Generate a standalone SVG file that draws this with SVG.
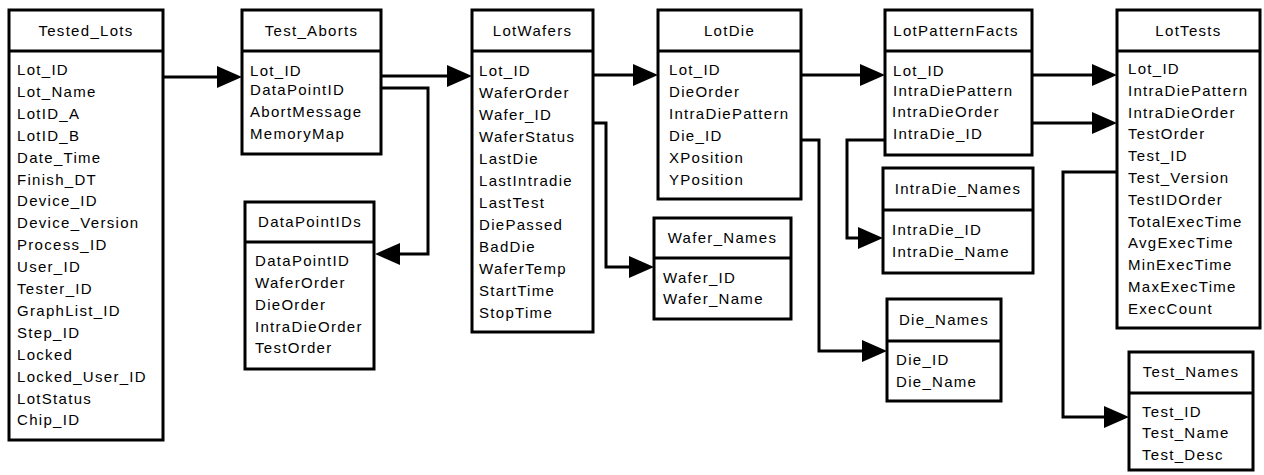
<svg xmlns="http://www.w3.org/2000/svg" width="1264" height="475" viewBox="0 0 1264 475">
  <style>
    .box { fill: #fff; stroke: #000; stroke-width: 3; }
    .div { stroke: #000; stroke-width: 3; }
    .t { font-family: "Liberation Sans", Arial, sans-serif; font-size: 15px; letter-spacing: 1.3px; fill: #000; }
    .h { text-anchor: middle; }
    .link { fill: none; stroke: #000; stroke-width: 3; marker-end: url(#arrow); }
  </style>
  <defs>
    <marker id="arrow" markerUnits="userSpaceOnUse" markerWidth="26" markerHeight="24" refX="20" refY="11" orient="auto">
      <path d="M0,0 L25,11 L0,22 z" fill="#000"/>
    </marker>
  </defs>
  <rect width="1264" height="475" fill="#fff"/>

  <!-- relationships -->
  <g id="connectors">
    <path class="link" d="M163,77 H237"/>
    <path class="link" d="M381,76 H467"/>
    <path class="link" d="M381,88 H428 V254 H380"/>
    <path class="link" d="M593,75 H653"/>
    <path class="link" d="M593,123 H606 V267 H649"/>
    <path class="link" d="M801,75 H880"/>
    <path class="link" d="M801,140 H819 V351 H882"/>
    <path class="link" d="M885,140 H847 V238 H878"/>
    <path class="link" d="M1032,75 H1112"/>
    <path class="link" d="M1032,123 H1112"/>
    <path class="link" d="M1117,172 H1063 V417 H1124"/>
  </g>

  <g id="Tested_Lots">
    <rect class="box" x="9" y="10" width="154" height="430"/>
    <line class="div" x1="9" y1="51" x2="163" y2="51"/>
    <text class="t h" x="86" y="36">Tested_Lots</text>
    <text class="t" x="17" y="75">Lot_ID</text>
    <text class="t" x="17" y="96.9">Lot_Name</text>
    <text class="t" x="17" y="118.8">LotID_A</text>
    <text class="t" x="17" y="140.7">LotID_B</text>
    <text class="t" x="17" y="162.6">Date_Time</text>
    <text class="t" x="17" y="184.5">Finish_DT</text>
    <text class="t" x="17" y="206.4">Device_ID</text>
    <text class="t" x="17" y="228.3">Device_Version</text>
    <text class="t" x="17" y="250.2">Process_ID</text>
    <text class="t" x="17" y="272.1">User_ID</text>
    <text class="t" x="17" y="294">Tester_ID</text>
    <text class="t" x="17" y="315.9">GraphList_ID</text>
    <text class="t" x="17" y="337.8">Step_ID</text>
    <text class="t" x="17" y="359.7">Locked</text>
    <text class="t" x="17" y="381.6">Locked_User_ID</text>
    <text class="t" x="17" y="403.5">LotStatus</text>
    <text class="t" x="17" y="425.4">Chip_ID</text>
  </g>

  <g id="Test_Aborts">
    <rect class="box" x="242" y="10" width="139" height="144"/>
    <line class="div" x1="242" y1="51" x2="381" y2="51"/>
    <text class="t h" x="311.5" y="36">Test_Aborts</text>
    <text class="t" x="250" y="76">Lot_ID</text>
    <text class="t" x="250" y="95">DataPointID</text>
    <text class="t" x="250" y="117">AbortMessage</text>
    <text class="t" x="250" y="139">MemoryMap</text>
  </g>

  <g id="DataPointIDs">
    <rect class="box" x="245" y="202" width="129" height="167"/>
    <line class="div" x1="245" y1="242" x2="374" y2="242"/>
    <text class="t h" x="310" y="227">DataPointIDs</text>
    <text class="t" x="255" y="266">DataPointID</text>
    <text class="t" x="255" y="288">WaferOrder</text>
    <text class="t" x="255" y="310">DieOrder</text>
    <text class="t" x="255" y="332">IntraDieOrder</text>
    <text class="t" x="255" y="353">TestOrder</text>
  </g>

  <g id="LotWafers">
    <rect class="box" x="472" y="10" width="121" height="322"/>
    <line class="div" x1="472" y1="51" x2="593" y2="51"/>
    <text class="t h" x="532.5" y="36">LotWafers</text>
    <text class="t" x="479" y="75.5">Lot_ID</text>
    <text class="t" x="479" y="97.5">WaferOrder</text>
    <text class="t" x="479" y="119.5">Wafer_ID</text>
    <text class="t" x="479" y="141.5">WaferStatus</text>
    <text class="t" x="479" y="163.5">LastDie</text>
    <text class="t" x="479" y="185.5">LastIntradie</text>
    <text class="t" x="479" y="207.5">LastTest</text>
    <text class="t" x="479" y="229.5">DiePassed</text>
    <text class="t" x="479" y="251.5">BadDie</text>
    <text class="t" x="479" y="273.5">WaferTemp</text>
    <text class="t" x="479" y="295.5">StartTime</text>
    <text class="t" x="479" y="317.5">StopTime</text>
  </g>

  <g id="LotDie">
    <rect class="box" x="658" y="10" width="143" height="189"/>
    <line class="div" x1="658" y1="51" x2="801" y2="51"/>
    <text class="t h" x="729.5" y="36">LotDie</text>
    <text class="t" x="669" y="75">Lot_ID</text>
    <text class="t" x="669" y="97">DieOrder</text>
    <text class="t" x="669" y="119">IntraDiePattern</text>
    <text class="t" x="669" y="141">Die_ID</text>
    <text class="t" x="669" y="163">XPosition</text>
    <text class="t" x="669" y="185">YPosition</text>
  </g>

  <g id="Wafer_Names">
    <rect class="box" x="654" y="218" width="137" height="101"/>
    <line class="div" x1="654" y1="258" x2="791" y2="258"/>
    <text class="t h" x="722.5" y="243">Wafer_Names</text>
    <text class="t" x="663" y="282.5">Wafer_ID</text>
    <text class="t" x="663" y="303.5">Wafer_Name</text>
  </g>

  <g id="LotPatternFacts">
    <rect class="box" x="885" y="10" width="147" height="145"/>
    <line class="div" x1="885" y1="51" x2="1032" y2="51"/>
    <text class="t h" x="956" y="36">LotPatternFacts</text>
    <text class="t" x="893" y="76">Lot_ID</text>
    <text class="t" x="893" y="96">IntraDiePattern</text>
    <text class="t" x="892" y="117">IntraDieOrder</text>
    <text class="t" x="893" y="139">IntraDie_ID</text>
  </g>

  <g id="IntraDie_Names">
    <rect class="box" x="883" y="168" width="150" height="105"/>
    <line class="div" x1="883" y1="210" x2="1033" y2="210"/>
    <text class="t h" x="958" y="194">IntraDie_Names</text>
    <text class="t" x="892" y="235">IntraDie_ID</text>
    <text class="t" x="892" y="257">IntraDie_Name</text>
  </g>

  <g id="Die_Names">
    <rect class="box" x="887" y="299" width="114" height="102"/>
    <line class="div" x1="887" y1="341" x2="1001" y2="341"/>
    <text class="t h" x="944" y="325">Die_Names</text>
    <text class="t" x="896" y="365">Die_ID</text>
    <text class="t" x="896" y="387">Die_Name</text>
  </g>

  <g id="LotTests">
    <rect class="box" x="1117" y="10" width="143" height="318"/>
    <line class="div" x1="1117" y1="51" x2="1260" y2="51"/>
    <text class="t h" x="1188.5" y="36">LotTests</text>
    <text class="t" x="1128" y="74">Lot_ID</text>
    <text class="t" x="1128" y="95.8">IntraDiePattern</text>
    <text class="t" x="1128" y="117.6">IntraDieOrder</text>
    <text class="t" x="1128" y="139.4">TestOrder</text>
    <text class="t" x="1128" y="161.2">Test_ID</text>
    <text class="t" x="1128" y="183">Test_Version</text>
    <text class="t" x="1128" y="204.8">TestIDOrder</text>
    <text class="t" x="1128" y="226.6">TotalExecTime</text>
    <text class="t" x="1128" y="248.4">AvgExecTime</text>
    <text class="t" x="1128" y="270.2">MinExecTime</text>
    <text class="t" x="1128" y="292">MaxExecTime</text>
    <text class="t" x="1128" y="313.8">ExecCount</text>
  </g>

  <g id="Test_Names">
    <rect class="box" x="1129" y="352" width="124" height="118"/>
    <line class="div" x1="1129" y1="393" x2="1253" y2="393"/>
    <text class="t h" x="1191" y="377">Test_Names</text>
    <text class="t" x="1142" y="417">Test_ID</text>
    <text class="t" x="1142" y="438">Test_Name</text>
    <text class="t" x="1142" y="460">Test_Desc</text>
  </g>
</svg>
